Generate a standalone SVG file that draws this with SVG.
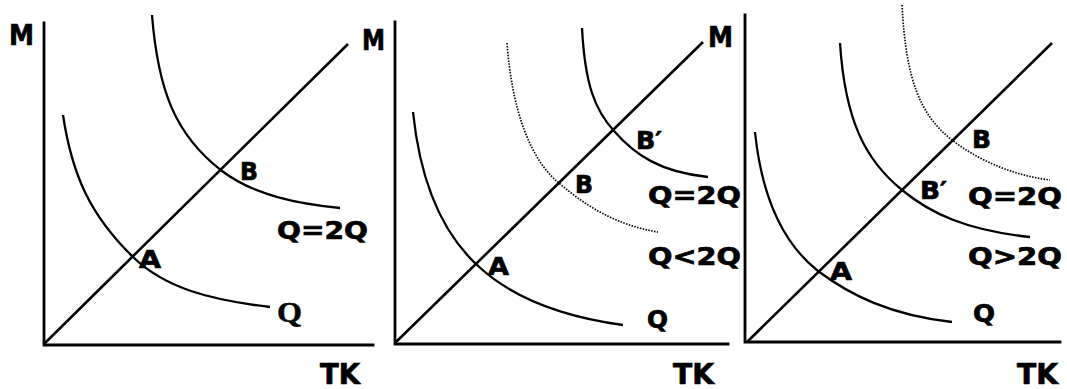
<svg xmlns="http://www.w3.org/2000/svg" width="1067" height="389" viewBox="0 0 1067 389">
<style>
.ax{stroke:#000;stroke-width:2.8;fill:none;stroke-linecap:square}
.dg{stroke:#000;stroke-width:2.6;fill:none}
.cv{stroke:#000;stroke-width:2.3;fill:none}
.dt{stroke:#000;stroke-width:1.7;fill:none;stroke-dasharray:1.5 1.4}
.t{font-family:"DejaVu Sans","Liberation Sans",sans-serif;font-weight:bold;font-size:24px;fill:#000;stroke:#000;stroke-width:0.7}
.big{font-size:28px}
.sf{font-family:"Liberation Serif","DejaVu Serif",serif;font-weight:bold;font-size:29px;fill:#000;stroke:#000;stroke-width:0.5}
</style>
<rect width="1067" height="389" fill="#fff"/>
<g id="panel1">
  <g id="p1-axes">
    <path class="ax" d="M44,23 V345 H373"/>
  </g>
  <g id="p1-connectors">
    <path class="dg" d="M44,344 L348,44"/>
    <path class="cv" d="M63,115 C72,175 90,215 133,257 C165,288 210,300 270,307"/>
    <path class="cv" d="M152,15 C158,90 175,135 222,171 C255,196 300,204 340,208"/>
  </g>
  <g id="p1-labels">
    <text class="t big" x="9" y="45" textLength="25" lengthAdjust="spacingAndGlyphs">M</text>
    <text class="t big" x="362" y="50" textLength="23" lengthAdjust="spacingAndGlyphs">M</text>
    <text class="t" x="139" y="268" textLength="22" lengthAdjust="spacingAndGlyphs">A</text>
    <text class="t" x="240" y="180" textLength="18" lengthAdjust="spacingAndGlyphs">B</text>
    <text class="t" x="277" y="239" textLength="91" lengthAdjust="spacingAndGlyphs">Q=2Q</text>
    <text class="sf" x="277" y="322" textLength="25" lengthAdjust="spacingAndGlyphs">Q</text>
    <text class="t big" x="320" y="384" textLength="40" lengthAdjust="spacingAndGlyphs">TK</text>
  </g>
</g>
<g id="panel2">
  <g id="p2-axes">
    <path class="ax" d="M395,22 V344 H728"/>
  </g>
  <g id="p2-connectors">
    <path class="dg" d="M395,343 L703,42"/>
    <path class="cv" d="M413,112 C420,180 440,230 476,264 C505,292 550,315 623,325"/>
    <path class="dt" d="M507,43 C512,110 530,160 560,184 C585,205 615,225 658,232"/>
    <path class="cv" d="M582,28 C585,85 595,110 614,131 C635,155 660,172 708,177"/>
  </g>
  <g id="p2-labels">
    <text class="t big" x="708" y="47" textLength="25" lengthAdjust="spacingAndGlyphs">M</text>
    <text class="t" x="636" y="149" textLength="26" lengthAdjust="spacingAndGlyphs">B′</text>
    <text class="t" x="575" y="193" textLength="18" lengthAdjust="spacingAndGlyphs">B</text>
    <text class="t" x="648" y="204" textLength="93" lengthAdjust="spacingAndGlyphs">Q=2Q</text>
    <text class="t" x="648" y="265" textLength="93" lengthAdjust="spacingAndGlyphs">Q&lt;2Q</text>
    <text class="t" x="488" y="275" textLength="21" lengthAdjust="spacingAndGlyphs">A</text>
    <text class="t" x="647" y="328" textLength="21" lengthAdjust="spacingAndGlyphs">Q</text>
    <text class="t big" x="673" y="384" textLength="41" lengthAdjust="spacingAndGlyphs">TK</text>
  </g>
</g>
<g id="panel3">
  <g id="p3-axes">
    <path class="ax" d="M745,15 V342 H1060"/>
  </g>
  <g id="p3-connectors">
    <path class="dg" d="M747,342 L1052,43"/>
    <path class="cv" d="M755,132 C762,200 785,245 818,271 C850,295 890,315 952,322"/>
    <path class="cv" d="M840,43 C845,120 865,160 902,190 C930,213 965,230 1030,237"/>
    <path class="dt" d="M902,5 C906,80 920,115 952,140 C975,158 1010,175 1050,180"/>
  </g>
  <g id="p3-labels">
    <text class="t" x="972" y="148" textLength="19" lengthAdjust="spacingAndGlyphs">B</text>
    <text class="t" x="920" y="199" textLength="27" lengthAdjust="spacingAndGlyphs">B′</text>
    <text class="t" x="968" y="205" textLength="94" lengthAdjust="spacingAndGlyphs">Q=2Q</text>
    <text class="t" x="968" y="265" textLength="94" lengthAdjust="spacingAndGlyphs">Q&gt;2Q</text>
    <text class="t" x="830" y="280" textLength="22" lengthAdjust="spacingAndGlyphs">A</text>
    <text class="t" x="973" y="322" textLength="22" lengthAdjust="spacingAndGlyphs">Q</text>
    <text class="t big" x="1017" y="384" textLength="41" lengthAdjust="spacingAndGlyphs">TK</text>
  </g>
</g>
</svg>
